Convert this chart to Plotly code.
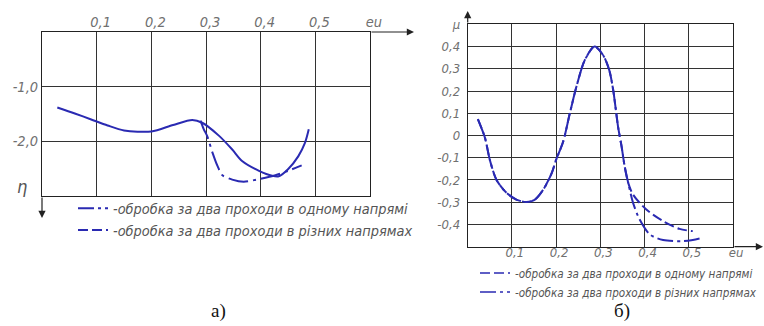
import plotly.graph_objects as go

# ---------- data: chart а) ----------
eu_a_one = [0.028, 0.06, 0.09, 0.12, 0.15, 0.2, 0.24, 0.275, 0.293, 0.324, 0.348, 0.366, 0.397, 0.421, 0.433, 0.45, 0.469, 0.481, 0.488]
eta_one = [-1.38, -1.49, -1.60, -1.71, -1.80, -1.82, -1.70, -1.61, -1.66, -1.90, -2.15, -2.36, -2.54, -2.63, -2.64, -2.51, -2.27, -2.03, -1.78]

eu_a_diff = [0.29, 0.296, 0.302, 0.312, 0.321, 0.33, 0.348, 0.369, 0.397, 0.427, 0.45, 0.475]
eta_diff = [-1.62, -1.78, -1.90, -2.21, -2.45, -2.62, -2.70, -2.74, -2.69, -2.62, -2.54, -2.44]

# ---------- data: chart б) ----------
eu_b_one = [0.023, 0.039, 0.05, 0.065, 0.088, 0.11, 0.133, 0.152, 0.171, 0.19, 0.2, 0.216, 0.231, 0.246, 0.265, 0.287,
            0.306, 0.32, 0.329, 0.34, 0.348, 0.355, 0.363, 0.374, 0.404, 0.442, 0.479, 0.509]
mu_one = [0.074, -0.01, -0.109, -0.199, -0.258, -0.288, -0.299, -0.288, -0.243, -0.169, -0.109, -0.027, 0.10, 0.22, 0.34, 0.40,
          0.362, 0.295, 0.205, 0.04, -0.049, -0.139, -0.213, -0.266, -0.333, -0.385, -0.42, -0.43]

eu_b_diff = [0.023, 0.039, 0.05, 0.065, 0.088, 0.11, 0.133, 0.152, 0.171, 0.19, 0.2, 0.216, 0.231, 0.246, 0.265, 0.287,
             0.306, 0.32, 0.329, 0.34, 0.348, 0.355, 0.363, 0.374, 0.389, 0.412, 0.442, 0.487, 0.509, 0.532]
mu_diff = [0.074, -0.01, -0.109, -0.199, -0.258, -0.288, -0.299, -0.288, -0.243, -0.169, -0.109, -0.027, 0.10, 0.22, 0.34, 0.40,
           0.362, 0.295, 0.205, 0.04, -0.049, -0.139, -0.213, -0.303, -0.378, -0.445, -0.47, -0.475, -0.47, -0.46]

# ---------- tick labels ----------
x_tickvals = [0.1, 0.2, 0.3, 0.4, 0.5, 0.6]
x_ticktext = ["0,1", "0,2", "0,3", "0,4", "0,5", "eu"]
eta_tickvals = [-1.0, -2.0]
eta_ticktext = ["-1,0", "-2,0"]
mu_tickvals = [-0.4, -0.3, -0.2, -0.1, 0.0, 0.1, 0.2, 0.3, 0.4, 0.5]
mu_ticktext = ["-0,4", "-0,3", "-0,2", "-0,1", "0", "0,1", "0,2", "0,3", "0,4", "μ"]

label_one = "-обробка за два проходи в одному напрямі"
label_diff = "-обробка за два проходи в різних напрямах"

BLUE = "#2a2ab2"
DASH = "10px,4px"
DASHDOT = "16px,4px,3px,4px"
FONT = "DejaVu Sans Condensed, sans-serif"
W, H = 764, 326

fig = go.Figure()

# chart а)
fig.add_trace(go.Scatter(x=eu_a_one, y=eta_one, mode="lines", line=dict(color=BLUE, width=2, shape="spline", smoothing=0.8),
                         showlegend=False, xaxis="x", yaxis="y"))
fig.add_trace(go.Scatter(x=eu_a_diff, y=eta_diff, mode="lines",
                         line=dict(color=BLUE, width=2, shape="spline", smoothing=0.8, dash="20px,5px,3px,5px"),
                         showlegend=False, xaxis="x", yaxis="y"))
fig.add_trace(go.Scatter(x=[None], y=[None], mode="lines", name=label_one, line=dict(color=BLUE, width=2, dash=DASHDOT),
                         legend="legend", xaxis="x", yaxis="y"))
fig.add_trace(go.Scatter(x=[None], y=[None], mode="lines", name=label_diff, line=dict(color=BLUE, width=2, dash=DASH),
                         legend="legend", xaxis="x", yaxis="y"))

# chart б)
fig.add_trace(go.Scatter(x=eu_b_one, y=mu_one, mode="lines", line=dict(color=BLUE, width=2, shape="spline", smoothing=0.8, dash=DASH),
                         showlegend=False, xaxis="x2", yaxis="y2"))
fig.add_trace(go.Scatter(x=eu_b_diff, y=mu_diff, mode="lines", line=dict(color=BLUE, width=2, shape="spline", smoothing=0.8, dash=DASHDOT),
                         showlegend=False, xaxis="x2", yaxis="y2"))
fig.add_trace(go.Scatter(x=[None], y=[None], mode="lines", name=label_one, line=dict(color=BLUE, width=1.6, dash=DASH),
                         legend="legend2", xaxis="x2", yaxis="y2"))
fig.add_trace(go.Scatter(x=[None], y=[None], mode="lines", name=label_diff, line=dict(color=BLUE, width=1.6, dash=DASHDOT),
                         legend="legend2", xaxis="x2", yaxis="y2"))

tick_font_a = dict(family=FONT, size=14.5, color="#707070", style="italic")
tick_font_b = dict(family=FONT, size=13, color="#707070", style="italic")
axis_common = dict(showgrid=True, gridcolor="#333333", gridwidth=1, showline=True, linecolor="#222222", linewidth=1,
                   mirror=True, zeroline=False, ticks="", fixedrange=True, automargin=False)

fig.update_layout(
    width=W, height=H, margin=dict(l=0, r=0, t=0, b=0, autoexpand=False),
    paper_bgcolor="white", plot_bgcolor="white",
    xaxis=dict(domain=[42 / W, 370 / W], range=[0, 0.6], side="top", anchor="y",
               tickvals=x_tickvals, ticktext=x_ticktext, tickfont=tick_font_a, ticklabelstandoff=-2,
               ticklabelshift=4, **axis_common),
    yaxis=dict(domain=[1 - 196 / H, 1 - 32 / H], range=[-3, 0], anchor="x",
               tickvals=eta_tickvals, ticktext=eta_ticktext, tickfont=tick_font_a, ticklabelstandoff=0, **axis_common),
    xaxis2=dict(domain=[467.7 / W, 733 / W], range=[0, 0.6], side="bottom", anchor="y2",
                tickvals=x_tickvals, ticktext=x_ticktext, tickfont=tick_font_b, ticklabelstandoff=-6,
                ticklabelshift=3, **axis_common),
    yaxis2=dict(domain=[1 - 246.7 / H, 1 - 24.3 / H], range=[-0.5, 0.5], anchor="x2",
                tickvals=mu_tickvals, ticktext=mu_ticktext, tickfont=tick_font_b, ticklabelstandoff=4, **axis_common),
    legend=dict(x=73 / W, y=1 - 192.5 / H, xanchor="left", yanchor="top", bgcolor="rgba(0,0,0,0)",
                font=dict(family=FONT, size=14.4, color="#555555", style="italic"), tracegroupgap=0,
                itemclick=False, itemdoubleclick=False),
    legend2=dict(x=475 / W, y=1 - 258.5 / H, xanchor="left", yanchor="top", bgcolor="rgba(0,0,0,0)",
                 font=dict(family=FONT, size=11.6, color="#555555", style="italic"), tracegroupgap=0,
                 itemclick=False, itemdoubleclick=False),
)

arrow = dict(showarrow=True, text="", arrowhead=2, arrowsize=1.2, arrowwidth=1.2, arrowcolor="#222222",
             xref="paper", yref="paper", axref="pixel", ayref="pixel", standoff=0, startstandoff=0)
fig.add_annotation(x=414 / W, y=1 - 32 / H, ax=-44, ay=0, **arrow)
fig.add_annotation(x=42 / W, y=1 - 218 / H, ax=0, ay=-22, **arrow)
fig.add_annotation(x=467.7 / W, y=1 - 11 / H, ax=0, ay=13, **arrow)
fig.add_annotation(x=763 / W, y=1 - 246.7 / H, ax=-30, ay=0, **arrow)

# η label on left axis
fig.add_annotation(x=0, y=-2.82, xref="x", yref="y", text="η", showarrow=False, xanchor="right", xshift=-13,
                   font=dict(family=FONT, size=18, color="#555555", style="italic"))

# subplot captions
fig.add_annotation(x=218 / W, y=1 - 311 / H, xref="paper", yref="paper", text="а)", showarrow=False,
                   xanchor="center", yanchor="middle",
                   font=dict(family="Liberation Serif, serif", size=19, color="#111111"))
fig.add_annotation(x=622 / W, y=1 - 311 / H, xref="paper", yref="paper", text="б)", showarrow=False,
                   xanchor="center", yanchor="middle",
                   font=dict(family="Liberation Serif, serif", size=19, color="#111111"))

fig.write_html("out.html", config={"displayModeBar": False, "staticPlot": True},
               post_script="document.body.style.margin='0px';document.body.style.overflow='hidden';")
